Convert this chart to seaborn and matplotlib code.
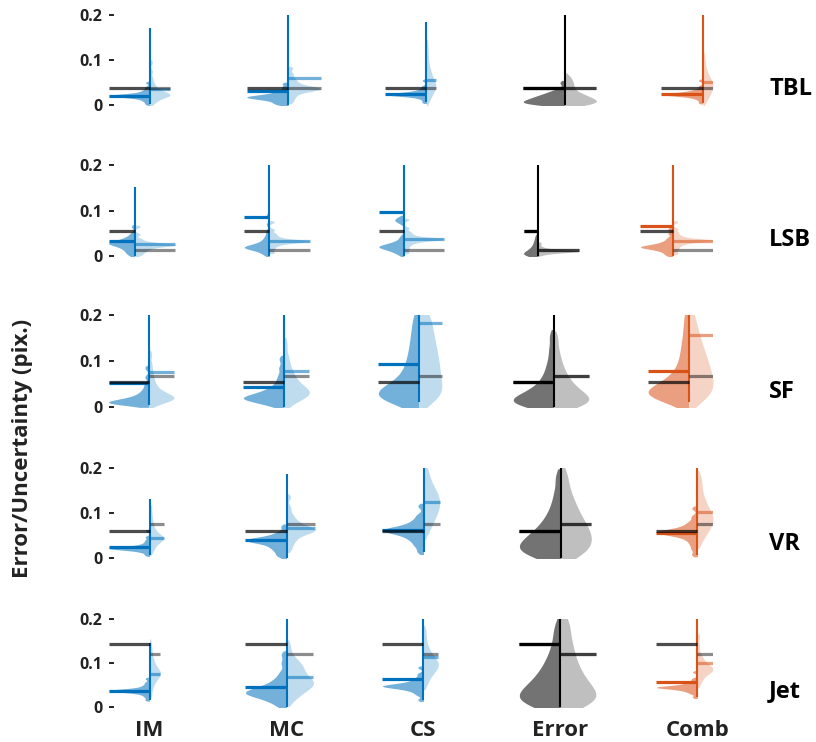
import numpy as np
import pandas as pd
import matplotlib
matplotlib.use("Agg")
import matplotlib.pyplot as plt
import seaborn as sns

METHODS = ["IM", "MC", "CS", "Error", "Comb"]
DATASETS = ["TBL", "LSB", "SF", "VR", "Jet"]

# Per-pixel error samples (left halves) and predicted uncertainty samples
# (right halves), one list per method, in pixels.
TBL_ERROR = [
    [0.003, 0.009, 0.013, 0.016, 0.018, 0.019, 0.020, 0.020, 0.021, 0.021, 0.022, 0.022, 0.023, 0.024, 0.025, 0.027, 0.030, 0.034, 0.040, 0.050],
    [0.001, 0.004, 0.007, 0.010, 0.012, 0.014, 0.015, 0.016, 0.017, 0.018, 0.019, 0.020, 0.021, 0.022, 0.024, 0.026, 0.029, 0.033, 0.040, 0.048],
    [0.007, 0.014, 0.018, 0.020, 0.021, 0.022, 0.023, 0.023, 0.024, 0.024, 0.025, 0.025, 0.026, 0.027, 0.028, 0.030, 0.032, 0.036, 0.042, 0.055],
    [0.0005, 0.0016, 0.0027, 0.0039, 0.0050, 0.0062, 0.0075, 0.0088, 0.0102, 0.0116, 0.0131, 0.0146, 0.0163, 0.0181, 0.0200, 0.0221, 0.0244, 0.0272, 0.0305, 0.0354, 0.050],
    [0.006, 0.013, 0.017, 0.019, 0.021, 0.022, 0.023, 0.023, 0.024, 0.024, 0.025, 0.025, 0.026, 0.027, 0.028, 0.030, 0.032, 0.035, 0.042, 0.055],
]
TBL_UNCERT = [
    [0.004, 0.010, 0.014, 0.017, 0.019, 0.021, 0.022, 0.023, 0.024, 0.025, 0.027, 0.029, 0.031, 0.034, 0.038, 0.043, 0.050, 0.060, 0.075, 0.095],
    [0.008, 0.016, 0.022, 0.027, 0.030, 0.032, 0.034, 0.035, 0.036, 0.037, 0.038, 0.039, 0.041, 0.043, 0.046, 0.050, 0.055, 0.061, 0.070, 0.082],
    [0.010, 0.018, 0.024, 0.029, 0.033, 0.036, 0.039, 0.042, 0.045, 0.048, 0.051, 0.055, 0.059, 0.064, 0.070, 0.077, 0.086, 0.098, 0.115, 0.135],
    [0.0007, 0.0020, 0.0034, 0.0049, 0.0065, 0.0080, 0.0096, 0.0113, 0.0132, 0.0152, 0.0174, 0.0197, 0.0223, 0.0254, 0.0291, 0.0346, 0.042, 0.048, 0.055, 0.064],
    [0.008, 0.015, 0.020, 0.025, 0.029, 0.033, 0.036, 0.039, 0.042, 0.045, 0.048, 0.051, 0.054, 0.058, 0.062, 0.067, 0.074, 0.083, 0.095, 0.110],
]

LSB_ERROR = [
    [0.001, 0.006, 0.010, 0.014, 0.017, 0.020, 0.022, 0.024, 0.026, 0.027, 0.028, 0.029, 0.030, 0.032, 0.034, 0.036, 0.039, 0.043, 0.050, 0.065],
    [0.002, 0.007, 0.011, 0.014, 0.016, 0.017, 0.018, 0.019, 0.020, 0.021, 0.022, 0.024, 0.026, 0.029, 0.033, 0.038, 0.045, 0.055, 0.070, 0.090],
    [0.003, 0.008, 0.011, 0.014, 0.016, 0.018, 0.019, 0.020, 0.021, 0.022, 0.023, 0.025, 0.027, 0.030, 0.035, 0.043, 0.074, 0.078, 0.081, 0.085],
    [0.000, 0.001, 0.002, 0.003, 0.004, 0.005, 0.006, 0.007, 0.009, 0.011, 0.013, 0.015, 0.018, 0.021, 0.025, 0.029, 0.034, 0.040, 0.046],
    [0.001, 0.006, 0.010, 0.013, 0.015, 0.017, 0.018, 0.019, 0.020, 0.021, 0.022, 0.023, 0.025, 0.027, 0.030, 0.034, 0.040, 0.050, 0.060],
]
LSB_UNCERT = [
    [0.002, 0.007, 0.011, 0.014, 0.017, 0.019, 0.021, 0.022, 0.023, 0.024, 0.025, 0.025, 0.026, 0.027, 0.028, 0.030, 0.033, 0.038, 0.048, 0.065],
    [0.008, 0.016, 0.022, 0.026, 0.028, 0.030, 0.031, 0.032, 0.032, 0.033, 0.033, 0.034, 0.035, 0.036, 0.038, 0.041, 0.045, 0.050, 0.058, 0.075],
    [0.008, 0.016, 0.023, 0.028, 0.031, 0.033, 0.035, 0.036, 0.037, 0.037, 0.038, 0.038, 0.039, 0.040, 0.042, 0.045, 0.049, 0.054, 0.062, 0.080],
    [0.003, 0.006, 0.008, 0.009, 0.0095, 0.010, 0.010, 0.010, 0.0105, 0.0105, 0.011, 0.011, 0.011, 0.0115, 0.012, 0.013, 0.014, 0.016, 0.020, 0.028],
    [0.006, 0.014, 0.020, 0.025, 0.028, 0.030, 0.032, 0.033, 0.034, 0.034, 0.035, 0.035, 0.036, 0.037, 0.039, 0.042, 0.046, 0.052, 0.060, 0.075],
]

SF_ERROR = [
    [0.004, 0.005, 0.006, 0.007, 0.008, 0.009, 0.010, 0.011, 0.012, 0.013, 0.015, 0.017, 0.019, 0.022, 0.026, 0.031, 0.038, 0.048, 0.065, 0.085],
    [0.001, 0.006, 0.010, 0.013, 0.015, 0.017, 0.018, 0.019, 0.021, 0.023, 0.025, 0.028, 0.031, 0.035, 0.040, 0.046, 0.056, 0.068, 0.085, 0.105],
    [0.011, 0.014, 0.017, 0.019, 0.021, 0.023, 0.025, 0.027, 0.029, 0.032, 0.035, 0.039, 0.044, 0.050, 0.057, 0.065, 0.074, 0.084, 0.095, 0.108, 0.122, 0.138, 0.156, 0.176, 0.200],
    [0.001, 0.003, 0.005, 0.007, 0.009, 0.011, 0.013, 0.016, 0.019, 0.022, 0.026, 0.030, 0.035, 0.041, 0.048, 0.057, 0.068, 0.082, 0.100, 0.125, 0.155],
    [0.011, 0.016, 0.019, 0.022, 0.025, 0.027, 0.029, 0.031, 0.034, 0.037, 0.040, 0.044, 0.049, 0.055, 0.062, 0.070, 0.080, 0.092, 0.108, 0.125, 0.145, 0.170, 0.200],
]
SF_UNCERT = [
    [0.006, 0.011, 0.014, 0.016, 0.017, 0.018, 0.019, 0.020, 0.022, 0.024, 0.027, 0.030, 0.034, 0.039, 0.045, 0.053, 0.063, 0.076, 0.092, 0.115],
    [0.005, 0.013, 0.019, 0.023, 0.026, 0.028, 0.030, 0.032, 0.035, 0.038, 0.042, 0.047, 0.052, 0.058, 0.065, 0.073, 0.083, 0.096, 0.113, 0.140],
    [0.012, 0.018, 0.024, 0.031, 0.038, 0.045, 0.052, 0.060, 0.068, 0.076, 0.084, 0.092, 0.100, 0.109, 0.118, 0.127, 0.137, 0.147, 0.158, 0.170, 0.183, 0.196, 0.210],
    [0.001, 0.004, 0.006, 0.008, 0.010, 0.013, 0.016, 0.019, 0.023, 0.027, 0.031, 0.036, 0.042, 0.048, 0.055, 0.063, 0.073, 0.085, 0.100, 0.120, 0.150],
    [0.013, 0.019, 0.025, 0.031, 0.037, 0.043, 0.049, 0.055, 0.061, 0.067, 0.073, 0.080, 0.087, 0.094, 0.102, 0.110, 0.119, 0.128, 0.139, 0.151, 0.165, 0.182, 0.205],
]

VR_ERROR = [
    [0.006, 0.012, 0.015, 0.017, 0.018, 0.019, 0.020, 0.020, 0.021, 0.021, 0.022, 0.022, 0.023, 0.024, 0.026, 0.028, 0.032, 0.038, 0.046, 0.060],
    [0.002, 0.008, 0.014, 0.019, 0.023, 0.027, 0.030, 0.033, 0.035, 0.037, 0.038, 0.039, 0.040, 0.041, 0.043, 0.045, 0.048, 0.052, 0.058, 0.070],
    [0.013, 0.025, 0.033, 0.040, 0.045, 0.049, 0.053, 0.056, 0.058, 0.060, 0.061, 0.062, 0.064, 0.066, 0.069, 0.073, 0.078, 0.085, 0.095, 0.115],
    [0.001, 0.004, 0.008, 0.012, 0.016, 0.020, 0.024, 0.028, 0.032, 0.037, 0.042, 0.047, 0.053, 0.060, 0.068, 0.077, 0.088, 0.102, 0.120, 0.145, 0.180],
    [0.007, 0.020, 0.030, 0.038, 0.044, 0.048, 0.051, 0.053, 0.055, 0.056, 0.057, 0.058, 0.060, 0.062, 0.065, 0.069, 0.074, 0.081, 0.092, 0.110],
]
VR_UNCERT = [
    [0.012, 0.020, 0.026, 0.031, 0.035, 0.038, 0.040, 0.042, 0.043, 0.045, 0.047, 0.049, 0.052, 0.056, 0.061, 0.067, 0.075, 0.085, 0.097, 0.112],
    [0.018, 0.030, 0.038, 0.045, 0.050, 0.054, 0.057, 0.059, 0.061, 0.062, 0.064, 0.066, 0.069, 0.072, 0.076, 0.081, 0.088, 0.097, 0.112, 0.135],
    [0.055, 0.068, 0.078, 0.086, 0.093, 0.099, 0.105, 0.110, 0.115, 0.120, 0.125, 0.130, 0.135, 0.140, 0.146, 0.152, 0.160, 0.170, 0.183, 0.200],
    [0.003, 0.009, 0.015, 0.021, 0.027, 0.033, 0.039, 0.045, 0.051, 0.057, 0.063, 0.070, 0.077, 0.085, 0.094, 0.104, 0.115, 0.128, 0.143, 0.165, 0.190],
    [0.036, 0.048, 0.056, 0.062, 0.068, 0.073, 0.078, 0.082, 0.086, 0.090, 0.094, 0.099, 0.104, 0.110, 0.117, 0.125, 0.135, 0.148, 0.165, 0.180],
]

JET_ERROR = [
    [0.017, 0.024, 0.029, 0.032, 0.034, 0.035, 0.036, 0.037, 0.037, 0.038, 0.038, 0.039, 0.039, 0.040, 0.041, 0.043, 0.046, 0.050, 0.056, 0.065],
    [0.001, 0.010, 0.016, 0.020, 0.024, 0.027, 0.029, 0.031, 0.033, 0.035, 0.037, 0.039, 0.042, 0.045, 0.049, 0.054, 0.060, 0.068, 0.080, 0.100, 0.120],
    [0.017, 0.028, 0.034, 0.038, 0.041, 0.043, 0.045, 0.046, 0.047, 0.048, 0.049, 0.050, 0.051, 0.053, 0.055, 0.058, 0.062, 0.068, 0.076, 0.090],
    [0.001, 0.005, 0.009, 0.013, 0.017, 0.021, 0.025, 0.030, 0.035, 0.040, 0.046, 0.052, 0.059, 0.067, 0.076, 0.086, 0.098, 0.112, 0.130, 0.155, 0.185],
    [0.023, 0.031, 0.035, 0.038, 0.040, 0.042, 0.043, 0.044, 0.045, 0.045, 0.046, 0.046, 0.047, 0.048, 0.050, 0.052, 0.055, 0.059, 0.065, 0.080],
]
JET_UNCERT = [
    [0.028, 0.042, 0.051, 0.058, 0.063, 0.067, 0.070, 0.073, 0.076, 0.078, 0.080, 0.083, 0.086, 0.090, 0.095, 0.101, 0.108, 0.117, 0.130, 0.146],
    [0.015, 0.026, 0.033, 0.039, 0.044, 0.048, 0.051, 0.054, 0.057, 0.060, 0.064, 0.068, 0.073, 0.080, 0.087, 0.092, 0.097, 0.104, 0.115, 0.140],
    [0.050, 0.062, 0.070, 0.076, 0.081, 0.085, 0.089, 0.092, 0.095, 0.098, 0.101, 0.104, 0.108, 0.112, 0.117, 0.123, 0.130, 0.140, 0.155, 0.175],
    [0.001, 0.006, 0.011, 0.016, 0.021, 0.026, 0.031, 0.037, 0.043, 0.050, 0.057, 0.065, 0.074, 0.084, 0.095, 0.108, 0.122, 0.138, 0.156, 0.178, 0.200],
    [0.052, 0.062, 0.068, 0.073, 0.077, 0.080, 0.082, 0.084, 0.086, 0.088, 0.090, 0.092, 0.095, 0.098, 0.102, 0.107, 0.113, 0.122, 0.140, 0.160],
]

# Full value range (min, max) of each dataset/method pair.
RANGE_LO = [
    [0.002, 0.000, 0.007, 0.000, 0.006],
    [0.000, 0.000, 0.000, 0.000, 0.000],
    [0.004, 0.000, 0.011, 0.000, 0.011],
    [0.006, 0.000, 0.013, 0.000, 0.007],
    [0.017, 0.000, 0.017, 0.000, 0.023],
]
RANGE_HI = [
    [0.170, 0.200, 0.183, 0.200, 0.200],
    [0.153, 0.200, 0.200, 0.200, 0.200],
    [0.200, 0.200, 0.200, 0.200, 0.200],
    [0.130, 0.185, 0.200, 0.200, 0.200],
    [0.146, 0.200, 0.200, 0.200, 0.200],
]

# Mean error / mean uncertainty per dataset (rows) and method (columns).
MEAN_ERROR = [
    [0.021, 0.032, 0.025, 0.038, 0.024],
    [0.033, 0.087, 0.097, 0.055, 0.066],
    [0.051, 0.043, 0.094, 0.054, 0.079],
    [0.024, 0.040, 0.061, 0.059, 0.056],
    [0.038, 0.045, 0.063, 0.143, 0.058],
]
MEAN_UNCERT = [
    [0.037, 0.060, 0.056, 0.038, 0.051],
    [0.027, 0.032, 0.037, 0.0125, 0.034],
    [0.076, 0.078, 0.183, 0.068, 0.157],
    [0.043, 0.067, 0.124, 0.076, 0.102],
    [0.075, 0.069, 0.115, 0.121, 0.101],
]

ERRORS = [TBL_ERROR, LSB_ERROR, SF_ERROR, VR_ERROR, JET_ERROR]
UNCERTS = [TBL_UNCERT, LSB_UNCERT, SF_UNCERT, VR_UNCERT, JET_UNCERT]
REF = METHODS.index("Error")

# ---- style ----
BLUE = (0.0, 0.447, 0.741)
ORANGE = (0.85, 0.325, 0.098)
BLACK = (0.0, 0.0, 0.0)
COLORS = [BLUE, BLUE, BLUE, BLACK, ORANGE]
TEXT = "#222222"
VIOLIN_WIDTH = 0.6
BW_SCALE = 0.4
BW_MIN, BW_MAX = 0.003, 0.02


def tint(c, a):
    return tuple(1 - a * (1 - v) for v in c)


def core_bw(kde):
    """Kernel bandwidth from the spread of the central 40% of the sample."""
    d = np.asarray(kde.dataset).ravel()
    q30, q70 = np.percentile(d, [30, 70])
    h = np.clip(BW_SCALE * (q70 - q30), BW_MIN, BW_MAX)
    return h / d.std(ddof=1)


sns.set_style("white")
plt.rcParams["font.family"] = ["Open Sans", "DejaVu Sans"]

FW, FH = 816, 742
fig = plt.figure(figsize=(FW / 100, FH / 100), dpi=100)
TOPS = [14.7, 165.3, 315.3, 467.7, 619.0]
BOTS = [105.3, 256.0, 406.7, 557.7, 707.3]
AX_L, AX_R = 108.5, 713.0

for r, dname in enumerate(DATASETS):
    ax = fig.add_axes([AX_L / FW, 1 - BOTS[r] / FH,
                       (AX_R - AX_L) / FW, (BOTS[r] - TOPS[r]) / FH])
    lefts, rights = [], []
    for j, method in enumerate(METHODS):
        e = ERRORS[r][j]
        u = UNCERTS[r][j]
        c = COLORS[j]
        df = pd.DataFrame({
            "pos": np.full(len(e) + len(u), float(j)),
            "value": np.r_[e, u],
            "half": ["error"] * len(e) + ["uncertainty"] * len(u),
        })
        n0 = len(ax.collections)
        sns.violinplot(
            data=df, x="pos", y="value", hue="half",
            hue_order=["error", "uncertainty"], split=True, native_scale=True,
            inner=None, cut=1, bw_method=core_bw, gridsize=400,
            density_norm="area", common_norm=True, width=VIOLIN_WIDTH,
            palette=[tint(c, 0.55), tint(c, 0.25)], saturation=1,
            linewidth=0, legend=False, ax=ax,
        )
        boxes = [coll.get_datalim(ax.transData) for coll in ax.collections[n0:]]
        xl = min(b.x0 for b in boxes)
        xr = max(b.x1 for b in boxes)
        lefts.append(xl)
        rights.append(xr)

        ax.vlines(j, RANGE_LO[r][j], RANGE_HI[r][j], color=c, lw=1.5, zorder=3)
        ax.hlines(MEAN_ERROR[r][j], xl, j, color=c, lw=2.3, zorder=3)
        ax.hlines(MEAN_UNCERT[r][j], j, xr, color=c, alpha=0.55, lw=2.3, zorder=3)
        ax.hlines(MEAN_ERROR[r][REF], xl, j, color=BLACK, alpha=0.7, lw=2.3, zorder=4)
        ax.hlines(MEAN_UNCERT[r][REF], j, xr, color=BLACK, alpha=0.45, lw=2.3, zorder=4)

    ax.set_xlim(min(lefts), max(rights))
    ax.set_ylim(0, 0.2)
    ax.set_xlabel("")
    ax.set_ylabel("")
    for s in ax.spines.values():
        s.set_visible(False)
    ax.set_yticks([0, 0.1, 0.2])
    ax.set_yticklabels(["0", "0.1", "0.2"], fontweight="bold")
    ax.tick_params(axis="y", direction="in", length=3.6, width=1.4,
                   pad=4.3, labelsize=11.5, colors=TEXT, left=True)
    if r == len(DATASETS) - 1:
        ax.set_xticks(range(len(METHODS)))
        ax.set_xticklabels(METHODS, fontweight="bold")
        ax.tick_params(axis="x", length=0, pad=9, labelsize=16, colors=TEXT)
    else:
        ax.set_xticks([])

ROW_LABEL_Y = [89, 240, 392, 544.5, 691.5]
for r, dname in enumerate(DATASETS):
    fig.text(769 / FW, 1 - ROW_LABEL_Y[r] / FH, dname, ha="left", va="center",
             fontsize=17, fontweight="bold", color="black")

fig.text(23 / FW, 1 - 448 / FH, "Error/Uncertainty (pix.)", rotation=90,
         ha="center", va="center", fontsize=16, fontweight="bold", color=TEXT)

fig.savefig("out.png", dpi=100, facecolor="white")
